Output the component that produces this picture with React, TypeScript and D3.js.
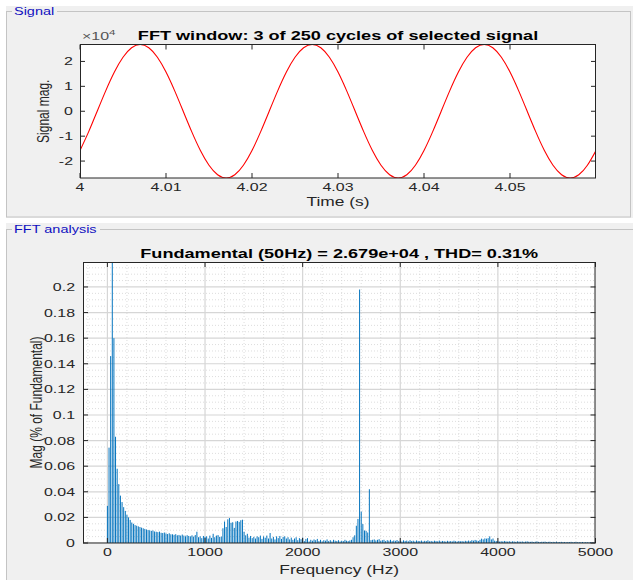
import React from 'react';
import * as d3 from 'd3';

const W = 633;
const H = 580;
const SX = 1.45; // horizontal stretch applied to all text
const FONT = '"Liberation Sans", Arial, Helvetica, sans-serif';
const AX = '#262626';
const PANEL = '#f0f0f0';
const PANEL_TITLE = '#1010c0';

// ---- Signal window (3 cycles), sampled every 1 ms from t = 4 s ----
const signalStart = 4;
const signalStep = 0.001;
const signalValues = [
  -15750, -8280, 0, 8280, 15750, 21670, 25480, 26790, 25480, 21670,
  15750, 8280, 0, -8280, -15750, -21670, -25480, -26790, -25480, -21670,
  -15750, -8280, 0, 8280, 15750, 21670, 25480, 26790, 25480, 21670,
  15750, 8280, 0, -8280, -15750, -21670, -25480, -26790, -25480, -21670,
  -15750, -8280, 0, 8280, 15750, 21670, 25480, 26790, 25480, 21670,
  15750, 8280, 0, -8280, -15750, -21670, -25480, -26790, -25480, -21670,
  -15750,
];
const timeTicks = [4, 4.01, 4.02, 4.03, 4.04, 4.05];
const signalTicks = [-2, -1, 0, 1, 2]; // x 10^4

// ---- FFT spectrum, % of fundamental, 16.67 Hz bins ----
const binWidth = 50 / 3;
const band0to1k = [
  0.029, 0.0745, 0.146, 100, 0.160, 0.083, 0.058, 0.046, 0.037, 0.032,
  0.028, 0.025, 0.022, 0.020, 0.018, 0.016, 0.015, 0.014, 0.0135, 0.013,
  0.0125, 0.012, 0.0115, 0.011, 0.0105, 0.0102, 0.0099, 0.0095, 0.0098, 0.009,
  0.0088, 0.0085, 0.0089, 0.008, 0.0078, 0.0082, 0.0075, 0.007, 0.0076, 0.0068,
  0.0068, 0.0064, 0.0069, 0.006, 0.0063, 0.0058, 0.0066, 0.0058, 0.0052, 0.0061,
  0.0055, 0.0052, 0.006, 0.005, 0.0062, 0.0088, 0.0045, 0.0052, 0.0038, 0.0055,
];
const band1to2k = [
  0.0048, 0.0052, 0.0035, 0.0058, 0.004, 0.0072, 0.0045, 0.0058, 0.0062, 0.0048,
  0.005, 0.0115, 0.0168, 0.0125, 0.0185, 0.0195, 0.0158, 0.0162, 0.0118, 0.0168,
  0.0172, 0.0165, 0.0178, 0.0182, 0.0088, 0.006, 0.0072, 0.0042, 0.0055, 0.0038,
  0.0048, 0.0035, 0.0052, 0.0045, 0.0058, 0.0032, 0.0052, 0.0041, 0.0058, 0.0035,
  0.0078, 0.0035, 0.0048, 0.0028, 0.0052, 0.0038, 0.0055, 0.0032, 0.0048, 0.0052,
  0.0035, 0.0045, 0.0028, 0.0042, 0.0025, 0.0035, 0.0045, 0.0022, 0.0038, 0.003,
];
const band2to3k = [
  0.0042, 0.0015, 0.0032, 0.0038, 0.0012, 0.0025, 0.0018, 0.0028, 0.0022, 0.0032,
  0.0015, 0.0025, 0.0012, 0.0022, 0.0018, 0.0028, 0.0015, 0.0022, 0.0012, 0.0025,
  0.0018, 0.0015, 0.0022, 0.0012, 0.0018, 0.0015, 0.0025, 0.0018, 0.0015, 0.002,
  0.0025, 0.0045, 0.006, 0.0135, 0.0188, 0.198, 0.0245, 0.0148, 0.0098, 0.0095,
  0.0082, 0.042, 0.0022, 0.0025, 0.0028, 0.002, 0.0025, 0.003, 0.0018, 0.0022,
  0.0025, 0.0015, 0.0022, 0.0018, 0.0025, 0.0015, 0.002, 0.0017, 0.0023, 0.0014,
];
const band3to4k = [
  0.0018, 0.0012, 0.0021, 0.0016, 0.0019, 0.0013, 0.0022, 0.0015, 0.0018, 0.0012,
  0.002, 0.0016, 0.0014, 0.0019, 0.0012, 0.0017, 0.0015, 0.0021, 0.0013, 0.0016,
  0.0012, 0.0018, 0.0015, 0.0013, 0.0019, 0.0012, 0.0016, 0.0014, 0.0011, 0.0017,
  0.0013, 0.0015, 0.0012, 0.0018, 0.0014, 0.0011, 0.0016, 0.0013, 0.0015, 0.0012,
  0.0017, 0.0014, 0.0019, 0.0015, 0.0022, 0.0018, 0.0024, 0.002, 0.0016, 0.0025,
  0.0034, 0.0028, 0.0036, 0.0034, 0.0038, 0.0052, 0.0028, 0.0035, 0.0018, 0.0015,
];
const band4to5k = [
  0.0015, 0.0011, 0.0014, 0.0012, 0.0016, 0.0013, 0.0011, 0.0014, 0.001, 0.0013,
  0.0012, 0.0009, 0.0013, 0.0011, 0.001, 0.0012, 0.0009, 0.0011, 0.0013, 0.001,
  0.0009, 0.0011, 0.0008, 0.001, 0.0012, 0.0009, 0.0008, 0.001, 0.0009, 0.0011,
  0.0008, 0.0009, 0.001, 0.0007, 0.0009, 0.0008, 0.001, 0.0007, 0.0008, 0.0009,
  0.0007, 0.0008, 0.0006, 0.0008, 0.0007, 0.0009, 0.0006, 0.0007, 0.0008, 0.0006,
  0.0007, 0.0006, 0.0008, 0.0005, 0.0007, 0.0006, 0.0005, 0.0007, 0.0006, 0.0005,
  0.0006,
];
const freqTicks = [0, 1000, 2000, 3000, 4000, 5000];
const magTicks = [0, 0.02, 0.04, 0.06, 0.08, 0.1, 0.12, 0.14, 0.16, 0.18, 0.2];

const spectrum = [...band0to1k, ...band1to2k, ...band2to3k, ...band3to4k, ...band4to5k].map(
  (m, i) => ({ f: i * binWidth, m })
);
const signal = signalValues.map((v, i) => ({ t: signalStart + i * signalStep, v }));

type TP = {
  x: number; y: number; children: React.ReactNode; size?: number; anchor?: string;
  weight?: string; fill?: string; rotate?: boolean;
};
function Txt({ x, y, children, size = 11, anchor = 'middle', weight = 'normal', fill = AX, rotate = false }: TP) {
  const tf = rotate
    ? `translate(${x},${y}) rotate(-90) scale(1,${SX})`
    : `translate(${x},${y}) scale(${SX},1)`;
  return (
    <text transform={tf} fontSize={size} textAnchor={anchor as any} fontWeight={weight} fill={fill} fontFamily={FONT}>
      {children}
    </text>
  );
}

const fmt = (v: number) => String(+v.toFixed(3));

function SignalAxes() {
  const L = 80, R = 596, T = 44.5, B = 178;
  const x = d3.scaleLinear().domain([4, 4.06]).range([L, R]);
  const y = d3.scaleLinear().domain([-26800, 26800]).range([B, T]);
  const line = d3.line<{ t: number; v: number }>().x(d => x(d.t)).y(d => y(d.v)).curve(d3.curveNatural);
  const tk = 5;
  return (
    <g>
      <defs>
        <clipPath id="clipSig"><rect x={L} y={T} width={R - L} height={B - T} /></clipPath>
      </defs>
      <rect x={L} y={T} width={R - L} height={B - T} fill="#fff" />
      <path d={line(signal) || ''} fill="none" stroke="#ff0000" strokeWidth={1.1} clipPath="url(#clipSig)" />
      <rect x={L + 0.5} y={T} width={R - L - 1} height={B - T} fill="none" stroke={AX} strokeWidth={1} />
      {timeTicks.map(t => (
        <g key={'tx' + t}>
          <line x1={x(t)} x2={x(t)} y1={B} y2={B - tk} stroke={AX} />
          <line x1={x(t)} x2={x(t)} y1={T} y2={T + tk} stroke={AX} />
          <Txt x={x(t)} y={B + 13}>{fmt(t)}</Txt>
        </g>
      ))}
      {signalTicks.map(v => (
        <g key={'ty' + v}>
          <line x1={L} x2={L + tk} y1={y(v * 1e4)} y2={y(v * 1e4)} stroke={AX} />
          <line x1={R} x2={R - tk} y1={y(v * 1e4)} y2={y(v * 1e4)} stroke={AX} />
          <Txt x={73} y={y(v * 1e4) + 4} anchor="end">{String(v)}</Txt>
        </g>
      ))}
      <Txt x={82} y={40} anchor="start" fill="#555">
        {'\u00d710'}
        <tspan fontSize={8} dy={-5}>4</tspan>
      </Txt>
      <Txt x={(L + R) / 2} y={40} size={12.5} weight="bold" fill="#000">
        FFT window: 3 of 250 cycles of selected signal
      </Txt>
      <Txt x={(L + R) / 2} y={206} size={12}>Time (s)</Txt>
      <Txt x={49} y={(T + B) / 2} size={12} rotate>Signal mag.</Txt>
    </g>
  );
}

function SpectrumAxes() {
  const L = 83, R = 595.5, T = 262, B = 543;
  const x = d3.scaleLinear().domain([-250, 5000]).range([L, R]);
  const y = d3.scaleLinear().domain([0, 0.2195]).range([B, T]);
  const step = x(binWidth) - x(0);
  const bw = step * 0.6;
  const tk = 5;
  const minorX = d3.range(-200, 5001, 200).filter(v => v % 1000 !== 0);
  const minorY = d3.range(0, 0.2195, 0.005).filter(v => Math.abs(v / 0.02 - Math.round(v / 0.02)) > 1e-6);
  return (
    <g>
      <defs>
        <clipPath id="clipFft"><rect x={L} y={T} width={R - L} height={B - T} /></clipPath>
      </defs>
      <rect x={L} y={T} width={R - L} height={B - T} fill="#fff" />
      <g clipPath="url(#clipFft)">
        {minorX.map(v => (
          <line key={'mx' + v} x1={x(v)} x2={x(v)} y1={T} y2={B} stroke="#d4d4d4" strokeWidth={0.8} strokeDasharray="1,2" />
        ))}
        {minorY.map(v => (
          <line key={'my' + v} x1={L} x2={R} y1={y(v)} y2={y(v)} stroke="#d4d4d4" strokeWidth={0.8} strokeDasharray="1,2" />
        ))}
        {freqTicks.map(v => (
          <line key={'gx' + v} x1={x(v)} x2={x(v)} y1={T} y2={B} stroke="#d6d6d6" strokeWidth={1.2} />
        ))}
        {magTicks.map(v => (
          <line key={'gy' + v} x1={L} x2={R} y1={y(v)} y2={y(v)} stroke="#d6d6d6" strokeWidth={1.2} />
        ))}
        {spectrum.map(d => (
          <rect key={'b' + d.f} x={x(d.f) - bw / 2} width={bw} y={y(d.m)} height={B - y(d.m)} fill="#0072BD" />
        ))}
      </g>
      <rect x={L + 0.5} y={T + 0.5} width={R - L - 1} height={B - T - 0.5} fill="none" stroke={AX} strokeWidth={1} />
      {freqTicks.map(v => (
        <g key={'fx' + v}>
          <line x1={x(v)} x2={x(v)} y1={B} y2={B - tk} stroke={AX} />
          <line x1={x(v)} x2={x(v)} y1={T} y2={T + tk} stroke={AX} />
          <Txt x={x(v)} y={B + 13}>{String(v)}</Txt>
        </g>
      ))}
      {magTicks.map(v => (
        <g key={'fy' + v}>
          <line x1={L} x2={L + tk} y1={y(v)} y2={y(v)} stroke={AX} />
          <line x1={R} x2={R - tk} y1={y(v)} y2={y(v)} stroke={AX} />
          <Txt x={75} y={y(v) + 4} anchor="end">{fmt(v)}</Txt>
        </g>
      ))}
      <Txt x={(L + R) / 2} y={258} size={12.5} weight="bold" fill="#000">
        Fundamental (50Hz) = 2.679e+04 , THD= 0.31%
      </Txt>
      <Txt x={(L + R) / 2} y={574} size={12}>Frequency (Hz)</Txt>
      <Txt x={42} y={(T + B) / 2} size={12} rotate>Mag (% of Fundamental)</Txt>
    </g>
  );
}

export default function App() {
  return (
    <div style={{ position: 'fixed', left: 0, top: 0 }}>
      <svg width={W} height={H} viewBox={`0 0 ${W} ${H}`} style={{ display: 'block' }}>
        <rect width={W} height={H} fill="#fff" />
        {/* Signal panel */}
        <rect x={6} y={6} width={W - 6} height={212} fill={PANEL} />
        <rect x={6.5} y={11.5} width={624} height={205.5} fill="none" stroke="#c4c4c4" />
        <rect x={12} y={6} width={45} height={10} fill={PANEL} />
        <Txt x={14} y={15} size={10} anchor="start" fill={PANEL_TITLE}>Signal</Txt>
        {/* FFT analysis panel */}
        <rect x={6} y={223} width={W - 6} height={H - 223} fill={PANEL} />
        <line x1={6} x2={W} y1={229.5} y2={229.5} stroke="#c4c4c4" />
        <line x1={6.5} x2={6.5} y1={229.5} y2={H} stroke="#c4c4c4" />
        <rect x={12} y={223} width={88} height={11} fill={PANEL} />
        <Txt x={14} y={233} size={10} anchor="start" fill={PANEL_TITLE}>FFT analysis</Txt>
        <SignalAxes />
        <SpectrumAxes />
      </svg>
    </div>
  );
}
